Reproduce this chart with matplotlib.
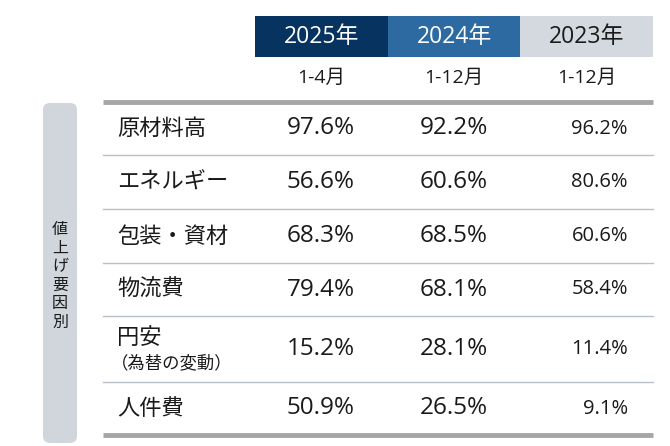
import matplotlib
matplotlib.use("Agg")
import matplotlib.pyplot as plt
from matplotlib.patches import Rectangle, FancyBboxPatch

plt.rcParams['font.family'] = ['Noto Sans CJK JP', 'DejaVu Sans']
NUMFONT = ['Open Sans', 'Noto Sans CJK JP', 'DejaVu Sans']

years = ["2025年", "2024年", "2023年"]
periods = ["1-4月", "1-12月", "1-12月"]
categories = ["原材料高", "エネルギー", "包装・資材", "物流費", "円安", "人件費"]
sub_labels = ["", "", "", "", "（為替の変動）", ""]
v2025 = [97.6, 56.6, 68.3, 79.4, 15.2, 50.9]
v2024 = [92.2, 60.6, 68.5, 68.1, 28.1, 26.5]
v2023 = [96.2, 80.6, 60.6, 58.4, 11.4, 9.1]
side_label = "値上げ要因別"

W, H = 670, 446
fig = plt.figure(figsize=(W / 100, H / 100), dpi=100)
ax = fig.add_axes([0, 0, 1, 1])
ax.set_xlim(0, W)
ax.set_ylim(H, 0)
ax.axis('off')

TXT = "#1a1a1a"

# header boxes
col_edges = [255, 388, 520, 653]
head_colors = ["#06335f", "#2e6aa2", "#d3d9de"]
head_text = ["white", "white", TXT]
for i in range(3):
    ax.add_patch(Rectangle((col_edges[i], 16), col_edges[i + 1] - col_edges[i], 41,
                           facecolor=head_colors[i], edgecolor='none'))
    cx = (col_edges[i] + col_edges[i + 1]) / 2
    ax.text(cx, 37, years[i], ha='center', va='center', fontsize=16.5, color=head_text[i],
            family=NUMFONT)
    ax.text(cx, 78, periods[i], ha='center', va='center', fontsize=14, color=TXT,
            family=NUMFONT)

# row boundaries
row_lines = [102, 155, 209, 263, 316, 382, 435]
ax.plot([103, 653], [row_lines[0], row_lines[0]], color="#a6a6a6", lw=3.5, solid_capstyle='butt')
ax.plot([103, 653], [row_lines[-1], row_lines[-1]], color="#a6a6a6", lw=3.5, solid_capstyle='butt')
for y in row_lines[1:-1]:
    ax.plot([103, 653], [y, y], color="#b8bfc6", lw=1)

# side box
ax.add_patch(FancyBboxPatch((43, 103), 34, 340, boxstyle="round,pad=0,rounding_size=7",
                            facecolor="#d0d6dc", edgecolor='none'))
ax.text(60, 276, "\n".join(side_label), ha='center', va='center', fontsize=11.5,
        color=TXT, linespacing=1.12)

for i, cat in enumerate(categories):
    y0, y1 = row_lines[i], row_lines[i + 1]
    cy = (y0 + y1) / 2
    if sub_labels[i]:
        ax.text(117, cy - 11, cat, ha='left', va='center', fontsize=16, color=TXT)
        ax.text(111, cy + 14, sub_labels[i], ha='left', va='center', fontsize=12.5, color=TXT)
    else:
        ax.text(117, cy, cat, ha='left', va='center', fontsize=16, color=TXT)
    ax.text(321, cy, f"{v2025[i]:.1f}%", ha='center', va='center', fontsize=17.5,
            color=TXT, family=NUMFONT)
    ax.text(454, cy, f"{v2024[i]:.1f}%", ha='center', va='center', fontsize=17.5,
            color=TXT, family=NUMFONT)
    ax.text(628, cy, f"{v2023[i]:.1f}%", ha='right', va='center', fontsize=14.5,
            color=TXT, family=NUMFONT)

fig.savefig("out.png", dpi=100, facecolor='white')
